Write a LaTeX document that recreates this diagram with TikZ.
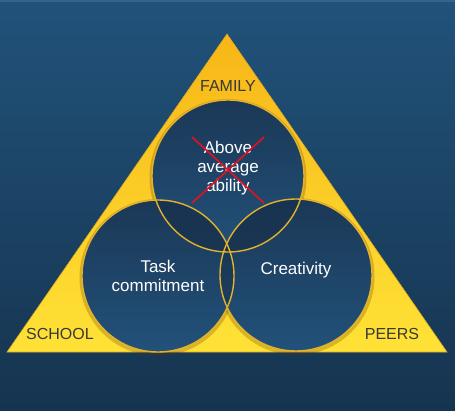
\documentclass[tikz,border=0pt]{standalone}
\usepackage{fontspec}
\setmainfont{Liberation Sans}
\definecolor{bgtop}{HTML}{21527A}
\definecolor{bgbot}{HTML}{16344F}
\definecolor{tritop}{HTML}{F7B617}
\definecolor{tribot}{HTML}{FFE236}
\definecolor{triedge}{HTML}{D8A824}
\definecolor{ctop}{HTML}{1B3856}
\definecolor{cbot}{HTML}{22517A}
\definecolor{ring}{HTML}{E2B22C}
\definecolor{lens}{HTML}{18324D}
\definecolor{lbl}{HTML}{383838}
\definecolor{xred}{HTML}{E8101E}
\tikzset{
  lbltext/.style={text=lbl, font=\fontsize{16}{19}\selectfont, inner sep=0pt},
  ctext/.style={text=white, font=\fontsize{17}{19}\selectfont, align=center, inner sep=0pt},
  ringline/.style={draw=ring, line width=1.4pt},
  crossline/.style={draw=xred, line width=1.6pt},
}
\begin{document}
\begin{tikzpicture}[x=1pt,y=-1pt]
\useasboundingbox (0,0) rectangle (455,410);
% background
\shade[top color=bgtop, bottom color=bgbot] (0,0) rectangle (455,410);
\fill[bgtop!80!white, opacity=0.5] (0,0) rectangle (455,1.5);
% triangle
\shade[top color=tritop, bottom color=tribot, draw=triedge, line width=0.6pt]
  (227,34) -- (447,352) -- (7,352) -- cycle;
% shadows of circles
\foreach \cx/\cy in {228/176, 158/276, 296/275}{
  \fill[black!60!orange, opacity=0.25] (\cx,\cy+1.5) circle (78.5);
}
% circle fills
\foreach \cx/\cy in {228/176, 158/276, 296/275}{
  \shade[top color=ctop, bottom color=cbot] (\cx,\cy) circle (76);
}
% darker overlaps
\begin{scope}
  \clip (228,176) circle (76);
  \fill[lens, opacity=0.75] (158,276) circle (76);
  \fill[lens, opacity=0.75] (296,275) circle (76);
\end{scope}
\begin{scope}
  \clip (158,276) circle (76);
  \fill[lens, opacity=0.5] (296,275) circle (76);
\end{scope}
% rings
\draw[ringline] (228,176) circle (76);
\draw[ringline] (158,276) circle (76);
\draw[ringline] (296,275) circle (76);
% labels
\node[lbltext] (family) at (228,86) {FAMILY};
\node[lbltext] (school) at (60,334) {SCHOOL};
\node[lbltext] (peers) at (392,334) {PEERS};
\node[ctext] (ability) at (228,168) {Above\\average\\ability};
\node[ctext] (task) at (158,276) {Task\\commitment};
\node[ctext] (creat) at (296,270) {Creativity};
% red cross
\coordinate (x1) at (192,137);
\coordinate (x2) at (264,203);
\coordinate (x3) at (264,137);
\coordinate (x4) at (192,203);
\draw[crossline] (x1) -- (x2);
\draw[crossline] (x3) -- (x4);
\end{tikzpicture}
\end{document}
